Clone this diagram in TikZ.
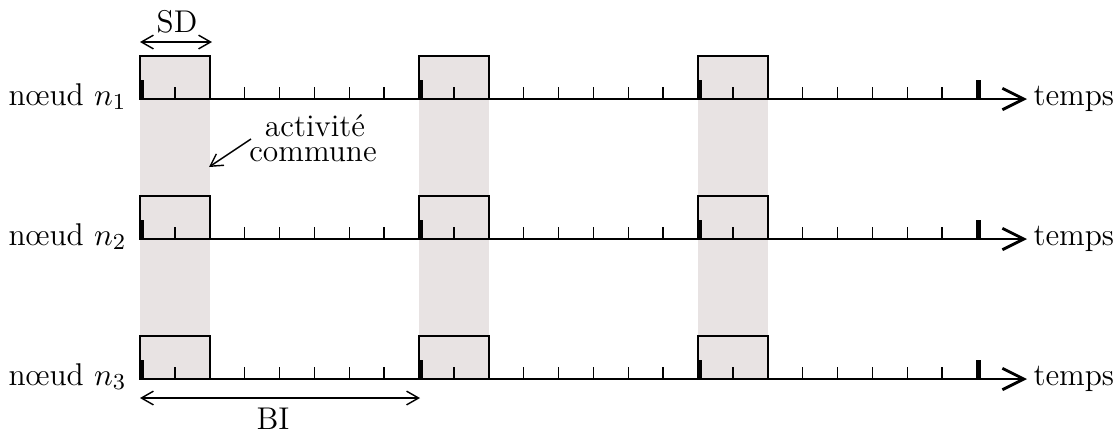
\documentclass[tikz,border=0pt]{standalone}
\usetikzlibrary{arrows.meta}
\definecolor{shadecol}{RGB}{232,227,227}
\begin{document}
\begin{tikzpicture}[x=0.35pt,y=-0.35pt,
  every node/.style={font=\fontsize{11}{13}\selectfont},
  axis/.style={line width=0.95pt,-{Straight Barb[length=7.5pt,width=7.5pt,line width=1pt]}},
  bigtick/.style={line width=1.5pt},
  smalltick/.style={line width=0.5pt},
  slot/.style={draw,line width=0.7pt},
  dimline/.style={line width=0.5pt,{Straight Barb[length=4.2pt,width=4.8pt]}-{Straight Barb[length=4.2pt,width=4.8pt]}},
  pointer/.style={line width=0.5pt,-{Straight Barb[length=4.2pt,width=4.8pt]}},
  lbl/.style={inner sep=0pt}]
\useasboundingbox (0,0) rectangle (1117,434);
% shaded columns of common activity
\foreach \k in {0,1,2}
  \fill[shadecol] ({140+279*\k},57) rectangle ({209.75+279*\k},379);
% rows
\foreach \r/\y in {1/99,2/239,3/379} {
  \coordinate (s\r) at (140,\y);
  \coordinate (e\r) at (1027,\y);
  \foreach \k in {0,1,2}
    \draw[slot] ({140+279*\k},\y) rectangle ({209.75+279*\k},{\y-43});
  \foreach \k in {0,1,2}
    \foreach \j in {1,...,7}
      \draw[smalltick] ({140+279*\k+34.875*\j},\y) -- ++(0,-12);
  \foreach \k in {0,1,2,3}
    \draw[bigtick] ({141.5+279*\k},\y) -- ++(0,-19);
  \draw[axis] (s\r) -- (e\r);
  \node[lbl,anchor=mid east] (n\r) at (127,\y) {nœud $n_\r$};
  \node[lbl,anchor=mid west] (t\r) at (1033,\y) {temps};
}
% SD
\coordinate (sdA) at (140,42);
\coordinate (sdB) at (212,42);
\draw[dimline] (sdA) -- (sdB);
\node[lbl,anchor=base] (sd) at (177,32) {SD};
% BI
\coordinate (biA) at (140,398);
\coordinate (biB) at (420,398);
\draw[dimline] (biA) -- (biB);
\node[lbl,anchor=base] (bi) at (273,429) {BI};
% common activity
\node[lbl,anchor=base] (act1) at (315,136) {activité};
\node[lbl,anchor=base] (act2) at (313,161) {commune};
\coordinate (actStart) at (251,139);
\coordinate (actTip) at (209,167);
\draw[pointer] (actStart) -- (actTip);
\end{tikzpicture}
\end{document}
